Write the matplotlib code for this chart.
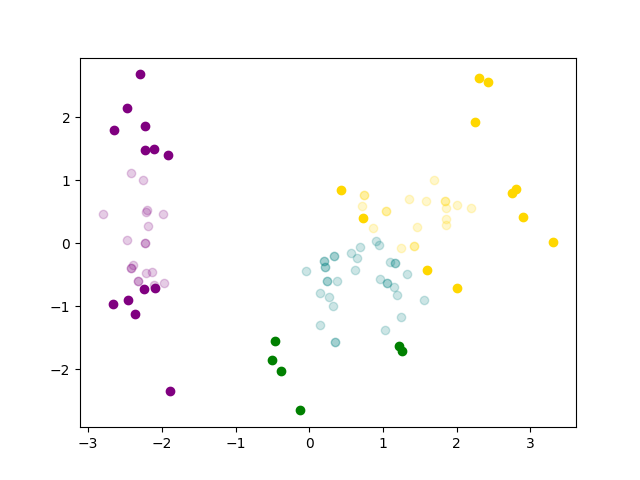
import numpy as np
import matplotlib
matplotlib.use("Agg")
import matplotlib.pyplot as plt

# cluster 0 (purple): inliers faded, outliers solid
purple_in_x = [-2.415, -2.256, -2.805, -2.202, -2.216, -1.990, -2.194, -2.469, -2.229, -2.229,
               -2.398, -2.425, -2.425, -2.212, -2.140, -2.324, -2.324, -1.977, -2.103]
purple_in_y = [1.116, 1.000, 0.456, 0.524, 0.492, 0.471, 0.270, 0.048, 0.005, 0.005,
               -0.338, -0.386, -0.386, -0.471, -0.460, -0.598, -0.598, -0.624, -0.667]
purple_out_x = [-2.293, -2.474, -2.646, -2.225, -2.235, -2.103, -1.923,
                -2.243, -2.094, -2.663, -2.456, -2.361, -1.890]
purple_out_y = [2.678, 2.148, 1.789, 1.857, 1.481, 1.487, 1.397,
                -0.730, -0.714, -0.963, -0.905, -1.116, -2.338]

# cluster 1 (teal / green)
teal_in_x = [0.913, 0.946, 0.335, 0.335, 0.204, 0.204, 0.213, 0.213, 0.566, 0.692, 0.655, -0.050,
             0.624, 1.099, 1.167, 1.167, 1.326, 0.244, 0.244, 0.376, 0.963, 1.049, 1.049, 1.153,
             1.194, 0.145, 0.275, 0.322, 1.556, 1.252, 0.149, 1.031, 0.353, 0.353]
teal_in_y = [0.032, -0.021, -0.195, -0.195, -0.281, -0.281, -0.381, -0.381, -0.154, -0.063, -0.227, -0.440,
             -0.417, -0.297, -0.317, -0.317, -0.481, -0.598, -0.598, -0.592, -0.571, -0.635, -0.635, -0.694,
             -0.814, -0.794, -0.857, -0.989, -0.900, -1.163, -1.302, -1.381, -1.560, -1.560]
green_out_x = [-0.471, -0.506, -0.380, -0.126, 1.217, 1.258]
green_out_y = [-1.544, -1.857, -2.021, -2.651, -1.624, -1.710]

# cluster 2 (gold)
gold_in_x = [1.700, 0.737, 0.737, 0.719, 1.041, 1.041, 1.357, 1.587, 1.849, 1.849, 1.859, 2.008,
             2.202, 1.863, 1.863, 0.864, 1.465, 1.248, 1.429, 1.429]
gold_in_y = [1.011, 0.767, 0.767, 0.592, 0.519, 0.519, 0.694, 0.671, 0.671, 0.671, 0.560, 0.614,
             0.560, 0.381, 0.297, 0.249, 0.254, -0.079, -0.048, -0.048]
gold_out_x = [2.303, 2.425, 2.256, 0.434, 0.729, 2.805, 2.750, 2.900, 3.315, 1.597, 2.004]
gold_out_y = [2.619, 2.551, 1.916, 0.846, 0.397, 0.857, 0.794, 0.417, 0.021, -0.424, -0.714]

fig, ax = plt.subplots(figsize=(6.4, 4.8), dpi=100)
ax.scatter(purple_in_x, purple_in_y, c="purple", alpha=0.2)
ax.scatter(teal_in_x, teal_in_y, c="teal", alpha=0.2)
ax.scatter(gold_in_x, gold_in_y, c="gold", alpha=0.2)
ax.scatter(purple_out_x, purple_out_y, c="purple")
ax.scatter(green_out_x, green_out_y, c="green")
ax.scatter(gold_out_x, gold_out_y, c="gold")
fig.savefig("out.png")
